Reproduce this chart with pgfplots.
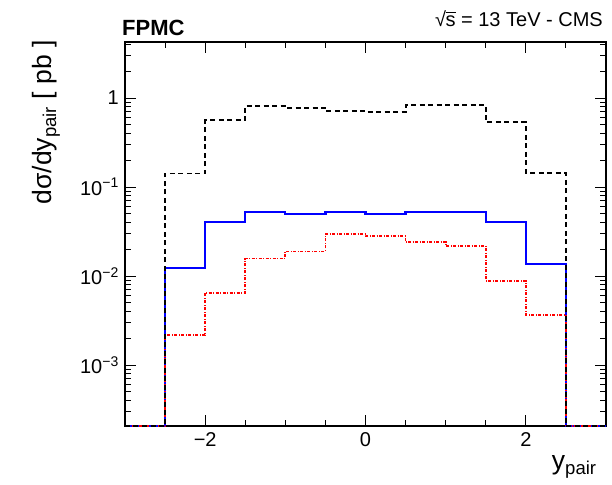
\documentclass[border=0pt]{standalone}
\usepackage{fontspec}
\setmainfont{Liberation Sans}
\usepackage{pgfplots}
\pgfplotsset{compat=1.18}
\definecolor{rootblue}{RGB}{0,0,255}
\definecolor{rootred}{RGB}{255,0,0}
\begin{document}
\begin{tikzpicture}
\def\ymn{2.065e-4}
\begin{axis}[
  scale only axis,
  width=481pt, height=384pt,
  xmin=-3, xmax=3,
  ymode=log, ymin=2.065e-4, ymax=4.26,
  xtick={-2,0,2},
  xticklabels={−2,0,2},
  minor xtick={-2.5,-1.5,-1,-0.5,0.5,1,1.5,2.5},
  ytick={1e-3,1e-2,1e-1,1},
  yticklabels={10\textsuperscript{−3},10\textsuperscript{−2},10\textsuperscript{−1},1},
  minor ytick={3e-4,4e-4,5e-4,6e-4,7e-4,8e-4,9e-4,2e-3,3e-3,4e-3,5e-3,6e-3,7e-3,8e-3,9e-3,2e-2,3e-2,4e-2,5e-2,6e-2,7e-2,8e-2,9e-2,2e-1,3e-1,4e-1,5e-1,6e-1,7e-1,8e-1,9e-1,2,3,4},
  tick align=inside,
  major tick length=11pt,
  minor tick length=6pt,
  every tick/.style={black, line width=1pt},
  axis line style={line width=1.2pt},
  tick label style={font=\fontsize{20}{22}\selectfont},
  xticklabel style={inner sep=6pt},
  yticklabel style={inner sep=6pt},
  xlabel={y\textsubscript{pair}},
  ylabel={dσ/dy\textsubscript{pair} [ pb ]},
  label style={font=\fontsize{26.5}{28}\selectfont},
  xlabel style={at={(axis description cs:0.981,-0.0755)}, anchor=north east, inner sep=0pt},
  ylabel style={at={(axis description cs:-0.135,1.005)}, anchor=south east, inner sep=0pt},
]
\addplot[const plot, rootblue, line width=2.2pt] coordinates {
  (-3,\ymn) (-2.5,0.0124) (-2,0.0407) (-1.5,0.0524) (-1,0.0501) (-0.5,0.0524)
  (0,0.0501) (0.5,0.0524) (1,0.0524) (1.5,0.0407) (2,0.0136) (2.5,\ymn) (3,\ymn)};
\addplot[const plot, rootred, line width=1.7pt, dash pattern=on 3pt off 1.5pt on 1pt off 1.5pt] coordinates {
  (-3,\ymn) (-2.5,0.00216) (-2,0.0065) (-1.5,0.0157) (-1,0.0189) (-0.5,0.0296)
  (0,0.0281) (0.5,0.0241) (1,0.0219) (1.5,0.00886) (2,0.00367) (2.5,\ymn) (3,\ymn)};
\addplot[const plot, black, line width=1.9pt, dash pattern=on 5pt off 3.5pt] coordinates {
  (-3,\ymn) (-2.5,0.142) (-2,0.561) (-1.5,0.82) (-1,0.778) (-0.5,0.714)
  (0,0.69) (0.5,0.834) (1,0.834) (1.5,0.533) (2,0.144) (2.5,\ymn) (3,\ymn)};
\end{axis}
\node[anchor=base west, inner sep=0pt, font=\bfseries\fontsize{22}{24}\selectfont] at ([xshift=-3pt,yshift=6pt]current axis.north west) {FPMC};
\node[anchor=base east, inner sep=0pt, font=\fontsize{20}{22}\selectfont] at ([xshift=-3pt,yshift=15pt]current axis.north east) {√\kern-0.5pt\rlap{\rule[14.2pt]{10.5pt}{1pt}}s = 13 TeV - CMS};
\path (current axis.south west) ++(-125pt,-58pt) rectangle ++(612pt,484pt);
\end{tikzpicture}
\end{document}
